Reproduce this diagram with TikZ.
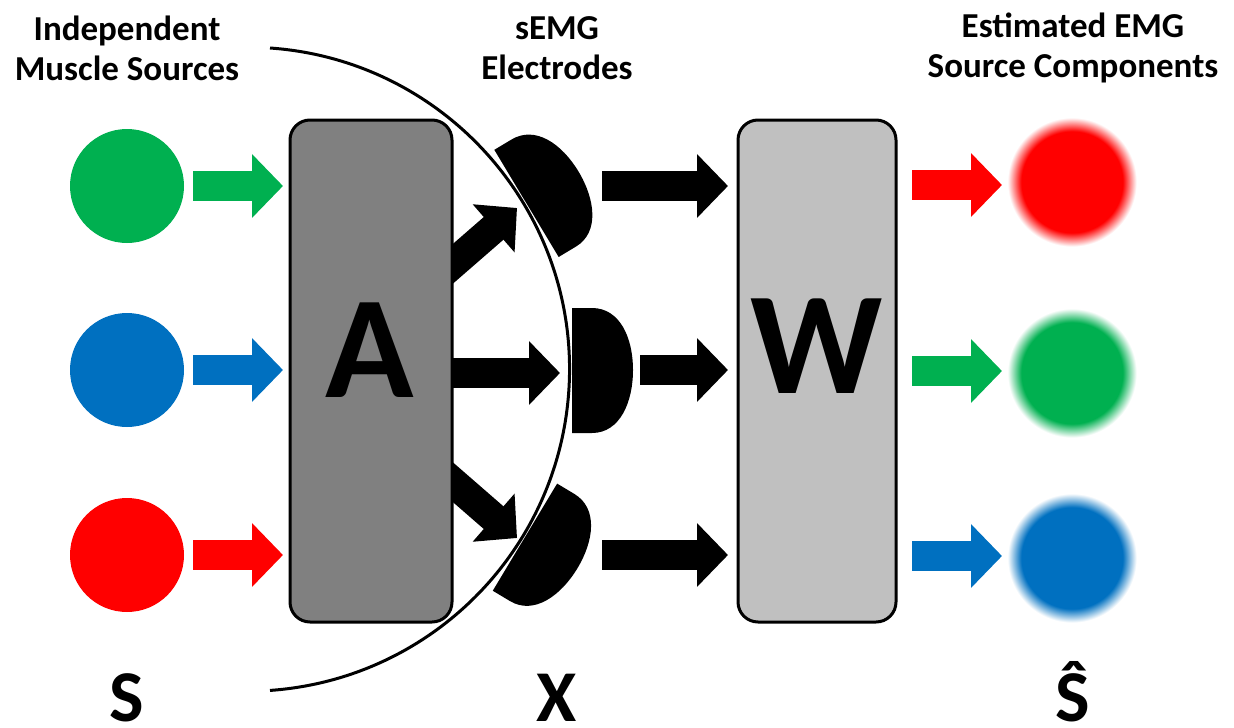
\documentclass[tikz,border=0pt]{standalone}
\usepackage{fontspec}
\setmainfont{Carlito}
\usetikzlibrary{arrows.meta}
\definecolor{cgreen}{RGB}{0,176,80}
\definecolor{cblue}{RGB}{0,112,192}
\definecolor{cred}{RGB}{255,0,0}
\definecolor{boxA}{RGB}{128,128,128}
\definecolor{boxW}{RGB}{192,192,192}
\pgfdeclareradialshading{redblur}{\pgfpointorigin}{color(0bp)=(cred); color(19.5bp)=(cred); color(24.8bp)=(white); color(50bp)=(white)}
\pgfdeclareradialshading{greenblur}{\pgfpointorigin}{color(0bp)=(cgreen); color(19.5bp)=(cgreen); color(24.8bp)=(white); color(50bp)=(white)}
\pgfdeclareradialshading{blueblur}{\pgfpointorigin}{color(0bp)=(cblue); color(19.5bp)=(cblue); color(24.8bp)=(white); color(50bp)=(white)}
\newcommand\electrodeshape{(572,308) -- (592,308) .. controls (620,308) and (633,338) .. (633,370) .. controls (633,402) and (620,433) .. (592,433) -- (572,433) -- cycle}
\begin{document}
\begin{tikzpicture}[x=1pt,y=-1pt,
  lbl/.style={font=\fontsize{35}{40}\selectfont\bfseries, align=center, inner sep=0pt},
  big/.style={font=\fontsize{73}{73}\selectfont\bfseries, anchor=base, inner sep=0pt},
  letter/.style={font=\fontsize{146}{146}\selectfont\bfseries, anchor=base, inner sep=0pt},
  src/.style={circle, minimum size=114pt, inner sep=0pt, draw=none},
  matbox/.style={draw=black, line width=3pt, rounded corners=20pt, inner sep=0pt},
  fat/.style={line width=30pt, -{Triangle[width=62pt,length=31pt]}}]
\useasboundingbox (0,0) rectangle (1234,728);
\fill[white] (0,0) rectangle (1234,728);

% headings
\node[lbl] (h1) at (127,48) {Independent\\Muscle Sources};
\node[lbl] (h2) at (557,48) {sEMG\\Electrodes};
\node[lbl] (h3) at (1073,48) {Estimated EMG\\Source Components};

% bottom symbols
\node[big] (sS) at (127,721) {S};
\node[big] (sX) at (557,721) {X};
\node[big] (sSh) at (1073,721) {\^{S}};

% sources
\node[src, fill=cgreen] (s1) at (127,186) {};
\node[src, fill=cblue] (s2) at (127,370) {};
\node[src, fill=cred] (s3) at (127,555) {};

% coloured arrows into A
\coordinate (a1s) at (193,186); \coordinate (a1e) at (283,186);
\coordinate (a2s) at (193,370); \coordinate (a2e) at (283,370);
\coordinate (a3s) at (193,555); \coordinate (a3e) at (283,555);
\draw[fat, cgreen] (a1s) -- (a1e);
\draw[fat, cblue] (a2s) -- (a2e);
\draw[fat, cred] (a3s) -- (a3e);

% skin arc
\draw[line width=3pt] (270,48) coordinate (arcT) arc[start angle=-86, end angle=86, radius=322] coordinate (arcB);

% black arrows from A to electrodes
\coordinate (m0) at (440,373); \coordinate (m1) at (560,373);
\coordinate (u0) at (440,275); \coordinate (u1) at (517,208);
\coordinate (d0) at (440,471); \coordinate (d1) at (517,538);
\draw[fat] (m0) -- (m1);
\draw[fat] (u0) -- (u1);
\draw[fat] (d0) -- (d1);

% mixing matrix A
\node[matbox, fill=boxA, minimum width=162pt, minimum height=502pt] (A) at (371,371) {};
\node[letter] (Al) at (370,397) {A};

% electrodes
\fill[black] \electrodeshape;
\fill[black, rotate around={31:(248,369)}] \electrodeshape;
\fill[black, rotate around={-31:(248,369)}] \electrodeshape;

% unmixing matrix W
\node[matbox, fill=boxW, minimum width=158pt, minimum height=502pt] (W) at (817,371) {};
\node[letter] (Wl) at (817,393) {W};

% arrows electrodes -> W
\coordinate (e1) at (602,186); \coordinate (w1) at (728,186);
\coordinate (e2) at (640,370); \coordinate (w2) at (728,370);
\coordinate (e3) at (602,555); \coordinate (w3) at (728,555);
\draw[fat] (e1) -- (w1);
\draw[fat] (e2) -- (w2);
\draw[fat] (e3) -- (w3);

% coloured arrows out of W
\coordinate (o1s) at (912,185); \coordinate (o1e) at (1002,185);
\coordinate (o2s) at (912,371); \coordinate (o2e) at (1002,371);
\coordinate (o3s) at (912,556); \coordinate (o3e) at (1002,556);
\draw[fat, cred] (o1s) -- (o1e);
\draw[fat, cgreen] (o2s) -- (o2e);
\draw[fat, cblue] (o3s) -- (o3e);

% estimated (blurred) sources
\shade[shading=redblur] (1072,182) circle (65);
\shade[shading=greenblur] (1072,373) circle (65);
\shade[shading=blueblur] (1072,558) circle (65);
\end{tikzpicture}
\end{document}
